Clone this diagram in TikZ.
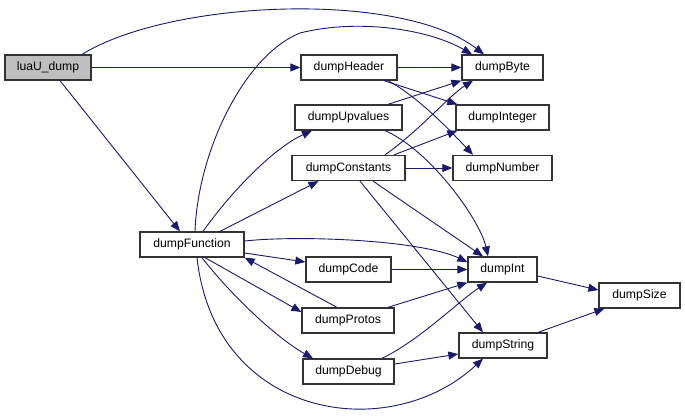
\documentclass[tikz,border=0pt]{standalone}
\usepackage{fontspec}
\setmainfont{Liberation Sans}
\usepackage{tikz}
\usetikzlibrary{arrows.meta}
\definecolor{edge}{HTML}{191970}
\definecolor{frame}{HTML}{333333}
\definecolor{rootfill}{HTML}{BFBFBF}

\begin{document}
\begin{tikzpicture}[
  x=1pt,y=-1pt,
  every node/.style={font=\fontsize{12.2}{14}\selectfont},
  fn/.style={rectangle,draw=frame,line width=1.3pt,fill=white,minimum height=25pt,inner sep=0pt},
  root/.style={fn,fill=rootfill},
  call/.style={draw=edge,line width=0.9pt,-{Triangle[length=10pt,width=8pt]}}
]
\useasboundingbox (0,0) rectangle (685,415);
% function boxes
\node[root,minimum width=86pt]  (dump)    at (48,67.5)    {luaU\_dump};
\node[fn,minimum width=96pt]    (header)  at (349,67.5)   {dumpHeader};
\node[fn,minimum width=81pt]    (byte)    at (502.5,67.5) {dumpByte};
\node[fn,minimum width=107pt]   (upval)   at (348.5,117.5) {dumpUpvalues};
\node[fn,minimum width=93pt]    (integer) at (502.5,117.5) {dumpInteger};
\node[fn,minimum width=113pt]   (consts)  at (348.5,168)  {dumpConstants};
\node[fn,minimum width=99pt]    (number)  at (502.5,168)  {dumpNumber};
\node[fn,minimum width=104pt]   (func)    at (192,244.5)  {dumpFunction};
\node[fn,minimum width=85pt]    (code)    at (348.5,269.5) {dumpCode};
\node[fn,minimum width=69pt]    (int)     at (502.5,269.5) {dumpInt};
\node[fn,minimum width=81pt]    (size)    at (639.5,295.5) {dumpSize};
\node[fn,minimum width=92pt]    (protos)  at (348,320.5)  {dumpProtos};
\node[fn,minimum width=88pt]    (string)  at (503,345.5)  {dumpString};
\node[fn,minimum width=91pt]    (debug)   at (348.5,371.5) {dumpDebug};
% calls from luaU_dump
\draw[call] ([xshift=34]dump.north) .. controls (170,0) and (400,-10) .. ([xshift=-18.5]byte.north);
\draw[call] (dump.east) -- (header.west);
\draw[call] ([xshift=12]dump.south) -- ([xshift=-12]func.north);
% calls from dumpFunction
\draw[call] ([xshift=3]func.north) .. controls (198,150) and (245,55) .. (300,33)
  .. controls (360,18) and (430,30) .. ([xshift=-30.5]byte.north);
\draw[call] ([xshift=11]func.north) .. controls (240,180) and (280,145) .. ([xshift=-36.5]upval.south);
\draw[call] ([xshift=28]func.north) -- ([xshift=-30]consts.south);
\draw[call] ([yshift=3.5]func.east) .. controls (300,235) and (420,240) .. ([yshift=7.5]int.west);
\draw[call] ([yshift=-8.5]func.east) -- ([yshift=7.5]code.west);
\draw[call] ([xshift=13]func.south) -- ([yshift=8.5]protos.west);
\draw[call] ([xshift=10]func.south) .. controls (235,300) and (280,340) .. ([xshift=-35.5]debug.north);
\draw[call] ([xshift=5]func.south) .. controls (215,420) and (390,445) .. ([xshift=-20]string.south);
% calls from the other dump functions
\draw[call] ([xshift=-11]protos.north) -- (func.south east);
\draw[call] (header.east) -- (byte.west);
\draw[call] ([xshift=35]header.south) -- ([xshift=2]integer.north west);
\draw[call] ([xshift=39]header.south) .. controls (415,95) and (445,125) .. ([xshift=-29.5]number.north);
\draw[call] ([xshift=39.5]upval.north) -- (byte.south west);
\draw[call] ([xshift=36.5]upval.south) .. controls (430,150) and (480,220) .. ([xshift=-14.5]int.north);
\draw[call] ([xshift=36.5]consts.north) .. controls (420,130) and (450,95) .. ([xshift=-29.5]byte.south);
\draw[call] ([xshift=45.5]consts.north) -- ([xshift=2]integer.south west);
\draw[call] (consts.east) -- (number.west);
\draw[call] ([xshift=24.5]consts.south) -- ([xshift=-19.5]int.north);
\draw[call] ([xshift=11.5]consts.south) -- ([xshift=-20]string.north);
\draw[call] (code.east) -- (int.west);
\draw[call] ([xshift=40]protos.north) -- (int.south west);
\draw[call] ([xshift=33.5]debug.north) .. controls (420,340) and (460,300) .. ([xshift=-15.5]int.south);
\draw[call] ([yshift=7.5]debug.east) -- ([yshift=-8.5]string.west);
\draw[call] ([yshift=-6.5]int.east) -- ([yshift=5.5]size.west);
\draw[call] ([xshift=35]string.north) -- ([xshift=6]size.south west);
\end{tikzpicture}
\end{document}
